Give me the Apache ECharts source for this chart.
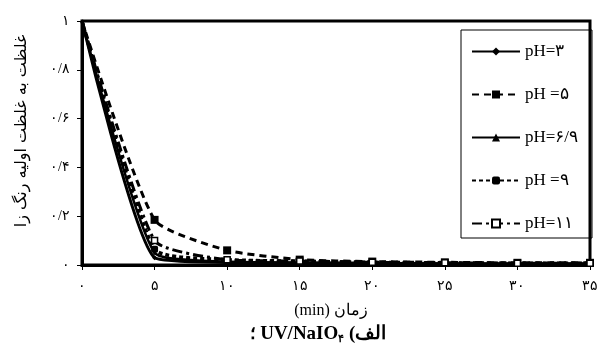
<!DOCTYPE html>
<html>
<head>
<meta charset="utf-8">
<script src="https://cdn.jsdelivr.net/npm/echarts@6/dist/echarts.min.js"></script>
<style>
html,body{margin:0;padding:0;background:#fff;}
#chart{width:601px;height:354px;}
</style>
</head>
<body>
<div id="chart"></div>
<script>
// ---- data ----
var times = [0, 5, 10, 15, 20, 25, 30, 35];
var seriesNames = ['pH=۳', 'pH =۵', 'pH=۶/۹', 'pH =۹', 'pH=۱۱'];
var pH3  = [1, 0.03, 0.010, 0.008, 0.006, 0.005, 0.005, 0.005];
var pH5  = [1, 0.185, 0.060, 0.022, 0.014, 0.011, 0.009, 0.009];
var pH69 = [1, 0.05, 0.014, 0.010, 0.008, 0.006, 0.005, 0.005];
var pH9  = [1, 0.065, 0.022, 0.016, 0.011, 0.009, 0.007, 0.007];
var pH11 = [1, 0.10, 0.022, 0.016, 0.011, 0.009, 0.007, 0.007];
var xTickLabels = ['۰', '۵', '۱۰', '۱۵', '۲۰', '۲۵', '۳۰', '۳۵'];
var yTickLabels = ['۰', '۰/۲', '۰/۴', '۰/۶', '۰/۸', '۱'];
var yAxisTitle = 'غلظت به غلظت اولیه رنگ زا';
var xAxisTitle = '(min) زمان';
var captionParts = ['؛ ', 'UV/NaIO', '۴', ' (الف'];

function pairs(arr) {
  return times.map(function (t, i) {
    var item = {value: [t, arr[i]]};
    if (i === 0) item.symbol = 'none';
    return item;
  });
}

var chart = echarts.init(document.getElementById('chart'), null, {renderer: 'canvas'});
var serif = '"Liberation Serif", "DejaVu Serif", serif';

function mk(name, data, lineType, width, symbol, size, hollow) {
  return {
    name: name, type: 'line', data: pairs(data), smooth: 0.18,
    symbol: symbol, symbolSize: size, showSymbol: true, showAllSymbol: true,
    lineStyle: {color: '#000', width: width, type: lineType},
    itemStyle: {color: hollow ? '#fff' : '#000', borderColor: '#000', borderWidth: hollow ? 1.5 : 0},
    z: 3
  };
}

var option = {
  backgroundColor: '#fff',
  animation: false,
  grid: {left: 82, top: 21, right: 8, bottom: 89, show: true, borderColor: '#000', borderWidth: 3, backgroundColor: 'transparent'},
  xAxis: {
    type: 'value', min: 0, max: 35, interval: 5,
    axisLine: {show: true, lineStyle: {color: '#000', width: 3}},
    axisTick: {show: true, inside: false, length: 5, lineStyle: {color: '#000', width: 1}},
    axisLabel: {margin: 14, color: '#000', fontSize: 14, fontFamily: serif,
      formatter: function (v) { return xTickLabels[Math.round(v / 5)]; }},
    splitLine: {show: false}
  },
  yAxis: {
    type: 'value', min: 0, max: 1, interval: 0.2,
    axisLine: {show: true, lineStyle: {color: '#000', width: 3}},
    axisTick: {show: true, inside: false, length: 5, lineStyle: {color: '#000', width: 1}},
    axisLabel: {margin: 12, color: '#000', fontSize: 14, fontFamily: serif,
      formatter: function (v) { return yTickLabels[Math.round(v / 0.2)]; }},
    splitLine: {show: false}
  },
  legend: {
    orient: 'vertical', left: 466, top: 38,
    itemWidth: 48, itemHeight: 10, itemGap: 26,
    textStyle: {color: '#000', fontSize: 17, fontFamily: serif},
    data: seriesNames
  },
  graphic: [
    {type: 'rect', shape: {x: 461, y: 30, width: 131, height: 208}, style: {fill: 'transparent', stroke: '#000', lineWidth: 1}, z: 1},
    {type: 'text', x: 22, y: 131, rotation: Math.PI / 2,
      style: {text: yAxisTitle, fill: '#000', font: '16px "DejaVu Sans", sans-serif', textAlign: 'center', textVerticalAlign: 'middle'}},
    {type: 'text', x: 331, y: 311,
      style: {text: xAxisTitle, fill: '#000', font: '16px ' + serif, textAlign: 'center', textVerticalAlign: 'middle'}},
    {type: 'text', x: 318, y: 334,
      style: {
        text: '{a|' + captionParts[0] + '}{b|' + captionParts[1] + '}{s|' + captionParts[2] + '}{b|' + captionParts[3] + '}',
        rich: {
          a: {fontSize: 18, fontWeight: 'bold', fontFamily: serif, fill: '#000', color: '#000'},
          b: {fontSize: 19, fontWeight: 'bold', fontFamily: serif, fill: '#000', color: '#000'},
          s: {fontSize: 11, fontWeight: 'bold', fontFamily: serif, fill: '#000', color: '#000', padding: [10, 0, 0, 0]}
        },
        textAlign: 'center', textVerticalAlign: 'middle'
      }}
  ],
  series: [
    mk(seriesNames[0], pH3, 'solid', 3, 'diamond', 5, false),
    mk(seriesNames[1], pH5, [7, 5], 3, 'rect', 8, false),
    mk(seriesNames[2], pH69, 'solid', 2.5, 'triangle', 4, false),
    mk(seriesNames[3], pH9, [4, 3], 3.5, 'roundRect', 7, false),
    mk(seriesNames[4], pH11, [10, 4, 3, 4], 3, 'rect', 6, true)
  ]
};
chart.setOption(option);
</script>
</body>
</html>
